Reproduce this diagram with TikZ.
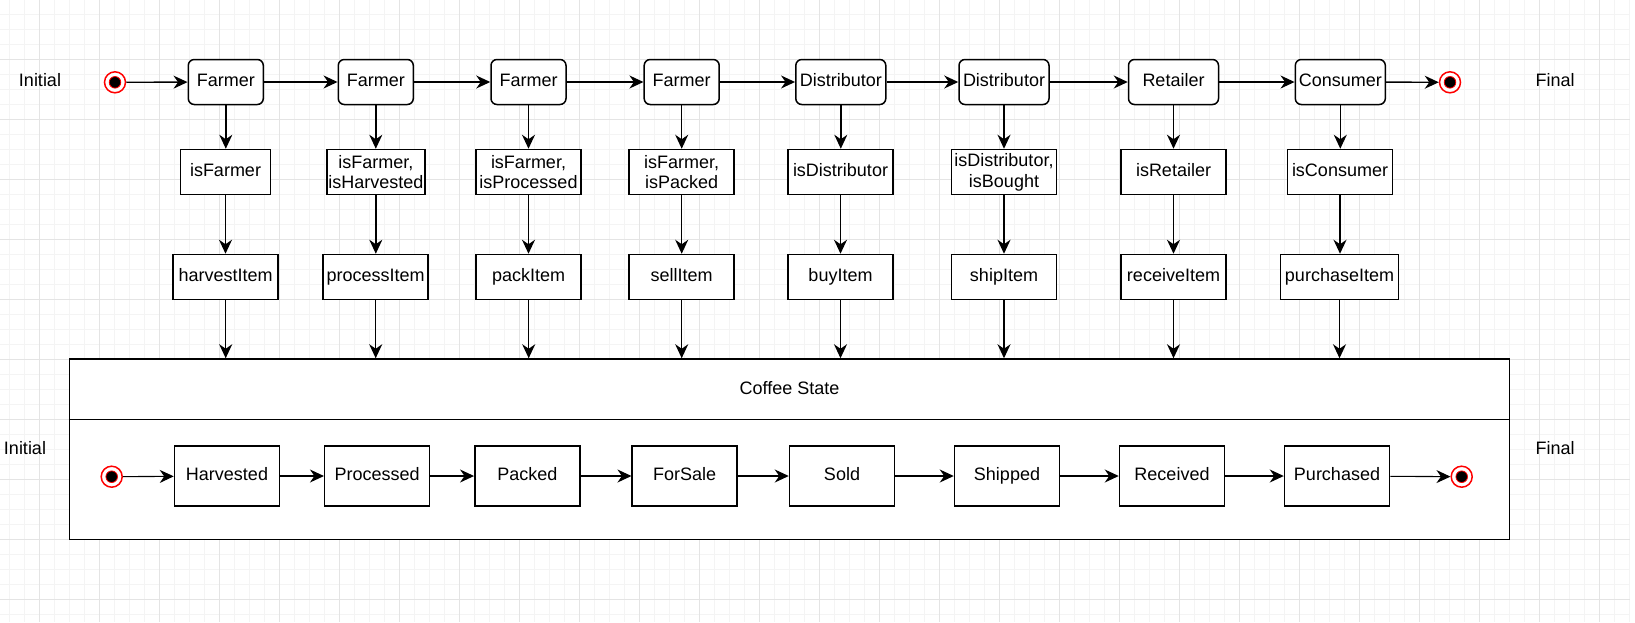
\documentclass[tikz,border=0pt]{standalone}
\usepackage{fontspec}
\setmainfont{Liberation Sans}
\usetikzlibrary{arrows.meta}
\begin{document}
\begin{tikzpicture}[x=1pt,y=-1pt,
  every node/.style={font=\fontsize{18}{20.7}\selectfont},
  box/.style={draw, line width=1.5pt, fill=white, inner sep=0pt, align=center, minimum height=45pt},
  one/.style={text height=13pt, text depth=4pt},
  role/.style={box, one, rounded corners=6pt},
  st/.style={box, one, minimum height=60pt, minimum width=105pt},
  arr/.style={line width=1.4pt, -{Stealth[length=14pt,width=13pt,inset=4.5pt]}},
  arrb/.style={line width=1.1pt, -{Stealth[length=14pt,width=13pt,inset=4.5pt]}},
  pseudo/.style={circle, draw=red, line width=1.5pt, fill=white, minimum size=21pt, inner sep=0pt,
    path picture={\draw[red, line width=0.8pt, fill=black] (path picture bounding box.center) circle (5.8pt);}},
  gmin/.style={line width=0.8pt, draw={rgb,255:red,244;green,244;blue,244}},
  gmaj/.style={line width=0.9pt, draw={rgb,255:red,228;green,228;blue,228}},
]
\useasboundingbox (0,0) rectangle (1635,622);
% grid
\foreach \x in {9.5,24.5,...,1629.5} \draw[gmin] (\x,0) -- (\x,622);
\foreach \y in {14.5,29.5,...,614.5} \draw[gmin] (0,\y) -- (1629.5,\y);
\foreach \x in {39.5,99.5,...,1599.5} \draw[gmaj] (\x,0) -- (\x,622);
\foreach \y in {59.5,119.5,...,599.5} \draw[gmaj] (0,\y) -- (1629.5,\y);

% labels
\node[inner sep=0pt] (li1) at (40,80) {Initial};
\node[inner sep=0pt] (lf1) at (1555,80) {Final};
\node[inner sep=0pt] (li2) at (25,448.3) {Initial};
\node[inner sep=0pt] (lf2) at (1555,448.3) {Final};

% top row
\node[pseudo] (i1) at (115,82.3) {};
\node[role, minimum width=75pt] (r1) at (225.8,82) {Farmer};
\node[role, minimum width=75pt] (r2) at (375.8,82) {Farmer};
\node[role, minimum width=75pt] (r3) at (528.5,82) {Farmer};
\node[role, minimum width=75pt] (r4) at (681.7,82) {Farmer};
\node[role, minimum width=90pt] (r5) at (840.8,82) {Distributor};
\node[role, minimum width=90pt] (r6) at (1004,82) {Distributor};
\node[role, minimum width=90pt] (r7) at (1173.5,82) {Retailer};
\node[role, minimum width=90pt] (r8) at (1340.3,82) {Consumer};
\node[pseudo] (e1) at (1450,82.3) {};

\draw[arr] (i1) -- (r1);
\draw[arr] (r1) -- (r2);
\draw[arr] (r2) -- (r3);
\draw[arr] (r3) -- (r4);
\draw[arr] (r4) -- (r5);
\draw[arr] (r5) -- (r6);
\draw[arr] (r6) -- (r7);
\draw[arr] (r7) -- (r8);
\draw[arr] (r8) -- (e1);

% guards
\node[box, one, minimum width=90pt] (g1) at (225.5,172) {isFarmer};
\node[box, minimum width=98pt] (g2) at (375.8,172) {isFarmer,\\isHarvested};
\node[box, minimum width=105pt] (g3) at (528.5,172) {isFarmer,\\isProcessed};
\node[box, minimum width=105pt] (g4) at (681.7,172) {isFarmer,\\isPacked};
\node[box, one, minimum width=105pt] (g5) at (840.5,172) {isDistributor};
\node[box, minimum width=105pt] (g6) at (1004,172) {isDistributor,\\isBought};
\node[box, one, minimum width=105pt] (g7) at (1173.5,172) {isRetailer};
\node[box, one, minimum width=105pt] (g8) at (1340,172) {isConsumer};

% functions
\node[box, one, minimum width=105pt] (f1) at (225.7,277) {harvestItem};
\node[box, one, minimum width=105pt] (f2) at (375.7,277) {processItem};
\node[box, one, minimum width=105pt] (f3) at (528.7,277) {packItem};
\node[box, one, minimum width=105pt] (f4) at (681.7,277) {sellItem};
\node[box, one, minimum width=105pt] (f5) at (840.5,277) {buyItem};
\node[box, one, minimum width=105pt] (f6) at (1004,277) {shipItem};
\node[box, one, minimum width=105pt] (f7) at (1173.5,277) {receiveItem};
\node[box, one, minimum width=118pt] (f8) at (1339.5,277) {purchaseItem};

% coffee state container
\node[draw, line width=1.5pt, fill=white, inner sep=0pt, minimum width=1440.2pt, minimum height=180.3pt] (cs) at (789.6,449.15) {};
\coordinate (hsep) at (0,419.7);
\draw[line width=1.5pt] (cs.west |- hsep) -- (cs.east |- hsep);
\node (cst) at (789.6,388.5) {Coffee State};

\foreach \i in {1,...,8} {
  \draw[arr] (r\i.south) -- (r\i.south |- g\i.north);
  \draw[arr] (g\i.south) -- (g\i.south |- f\i.north);
  \draw[arr] (f\i.south) -- (f\i.south |- cs.north);
}

% bottom states
\node[pseudo] (i2) at (111.7,476.7) {};
\node[st] (s1) at (227,476) {Harvested};
\node[st] (s2) at (377.2,476) {Processed};
\node[st] (s3) at (527.3,476) {Packed};
\node[st] (s4) at (684.7,476) {ForSale};
\node[st] (s5) at (842,476) {Sold};
\node[st] (s6) at (1007,476) {Shipped};
\node[st] (s7) at (1172,476) {Received};
\node[st] (s8) at (1337,476) {Purchased};
\node[pseudo] (e2) at (1461.7,476.7) {};

\draw[arrb] (i2) -- (s1);
\draw[arrb] (s1) -- (s2);
\draw[arrb] (s2) -- (s3);
\draw[arrb] (s3) -- (s4);
\draw[arrb] (s4) -- (s5);
\draw[arrb] (s5) -- (s6);
\draw[arrb] (s6) -- (s7);
\draw[arrb] (s7) -- (s8);
\draw[arrb] (s8) -- (e2);
\end{tikzpicture}
\end{document}
